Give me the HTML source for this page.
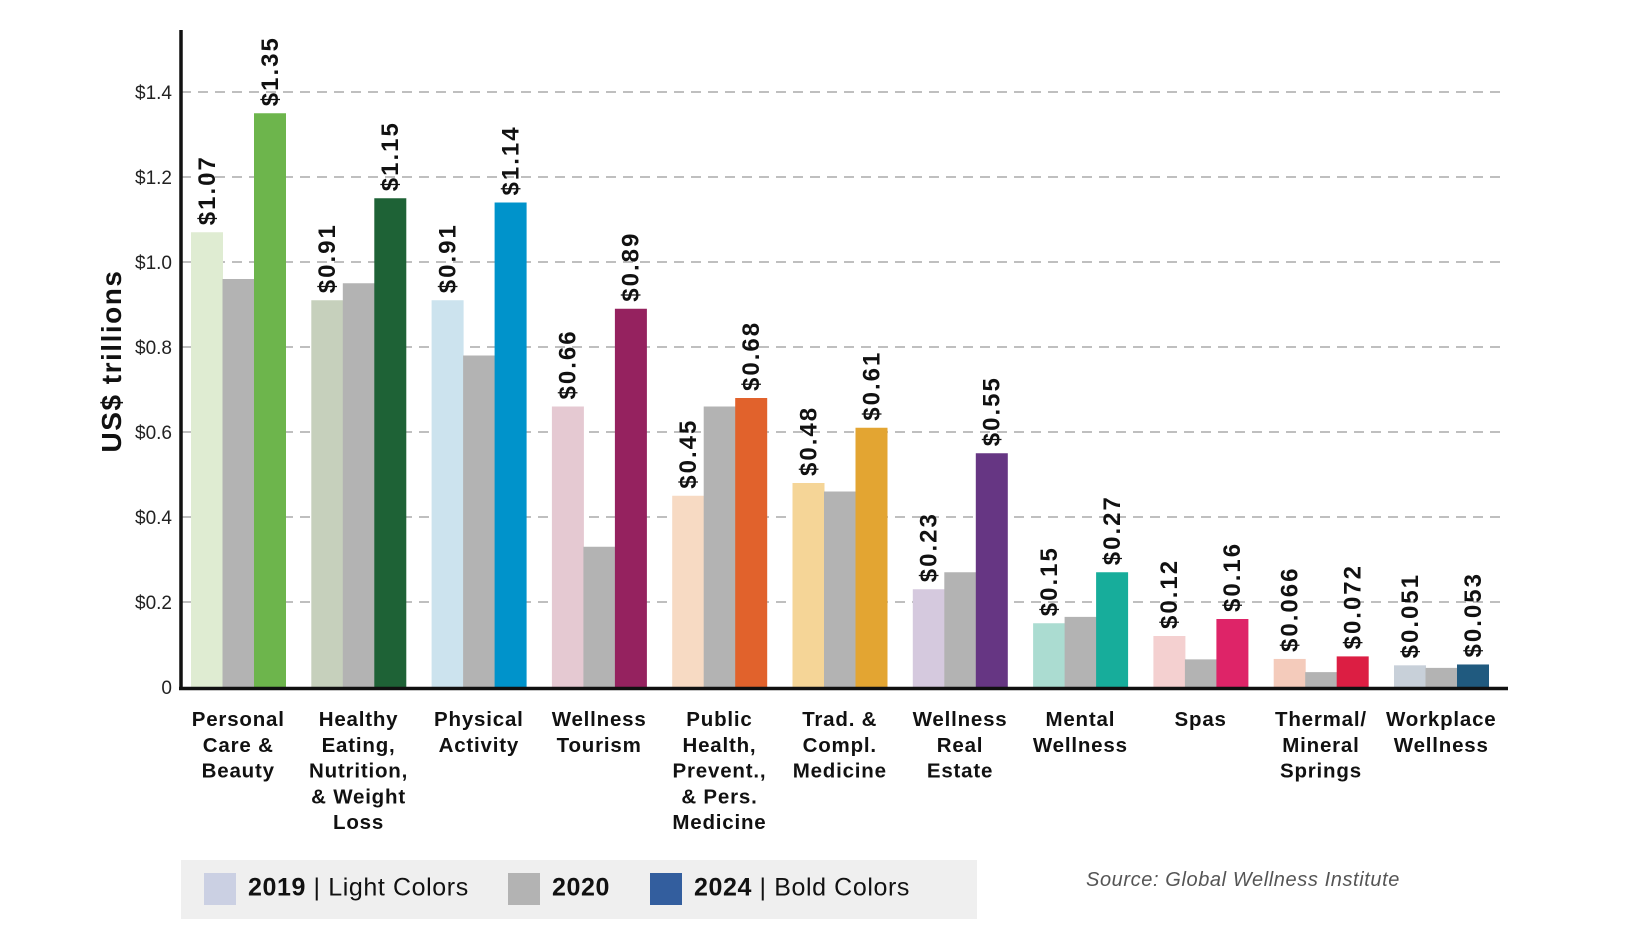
<!DOCTYPE html>
<html><head><meta charset="utf-8"><style>
html,body{margin:0;padding:0;background:#fff;width:1644px;height:948px;overflow:hidden}
svg{display:block;font-family:"Liberation Sans",sans-serif}
</style></head><body>
<svg id="chart" width="1644" height="948" viewBox="0 0 1644 948"></svg>
<script>
const categories=[["Personal","Care &","Beauty"],["Healthy","Eating,","Nutrition,","& Weight","Loss"],["Physical","Activity"],["Wellness","Tourism"],["Public","Health,","Prevent.,","& Pers.","Medicine"],["Trad. &","Compl.","Medicine"],["Wellness","Real","Estate"],["Mental","Wellness"],["Spas"],["Thermal/","Mineral","Springs"],["Workplace","Wellness"]];
const values2019=[1.07,0.91,0.91,0.66,0.45,0.48,0.23,0.15,0.12,0.066,0.051];
const values2020=[0.96,0.95,0.78,0.33,0.66,0.46,0.27,0.165,0.065,0.035,0.045];
const values2024=[1.35,1.15,1.14,0.89,0.68,0.61,0.55,0.27,0.16,0.072,0.053];
const labels2019=["$1.07","$0.91","$0.91","$0.66","$0.45","$0.48","$0.23","$0.15","$0.12","$0.066","$0.051"];
const labels2024=["$1.35","$1.15","$1.14","$0.89","$0.68","$0.61","$0.55","$0.27","$0.16","$0.072","$0.053"];
const yTicks=[0,0.2,0.4,0.6,0.8,1.0,1.2,1.4];
const yTickLabels=["0","$0.2","$0.4","$0.6","$0.8","$1.0","$1.2","$1.4"];
const lightColors=["#dfecd2","#c6d0bc","#cce3ee","#e5c9d2","#f7dac3","#f5d597","#d5c9de","#abdcd1","#f4d0d0","#f4cbbb","#c8d0d9"];
const boldColors=["#6db54c","#1e6236","#0093cb","#95225f","#e1622c","#e3a532","#663683","#17ad9b","#de2468","#dc1e43","#205a7f"];

const svg=document.getElementById('chart');
const NS='http://www.w3.org/2000/svg';
const Y0=687,SCALE=425,AXX=181,GX0=191,PITCH=120.3,BW=31.5;
function y(v){return Y0-v*SCALE;}
function gx(i){return GX0+i*PITCH;}
function mk(tag,attrs,parent){const e=document.createElementNS(NS,tag);for(const k in attrs)e.setAttribute(k,attrs[k]);(parent||svg).appendChild(e);return e;}

yTicks.forEach((t,i)=>{
  if(t>0){const l=mk('line',{x1:AXX,x2:1500,y1:y(t),y2:y(t),stroke:'#aaa','stroke-width':1.5,'stroke-dasharray':'10 7'});
  
  }
  const tx=mk('text',{x:172,y:y(t)+7,'text-anchor':'end','font-size':19,fill:'#222'});
  tx.textContent=yTickLabels[i];
  
  
});
const yt=mk('text',{transform:'translate(121,361) rotate(-90)','text-anchor':'middle','font-size':28,'font-weight':'bold',fill:'#111','letter-spacing':1.5});
yt.textContent='US$ trillions';



categories.forEach((c,i)=>{
  const x=gx(i);
  const sets=[[values2019[i],lightColors[i],'bar-2019'],[values2020[i],'#b3b3b3','bar-2020'],[values2024[i],boldColors[i],'bar-2024']];
  sets.forEach((s,j)=>{
    const r=mk('rect',{x:x+j*BW,y:y(s[0]),width:BW+0.5,height:Y0-y(s[0]),fill:s[1]});
    
    
  });
  [[values2019[i],labels2019[i],0],[values2024[i],labels2024[i],2]].forEach(p=>{
    const cx=x+p[2]*BW+BW/2+8,cy=y(p[0])-7;
    const t=mk('text',{transform:`translate(${cx},${cy}) rotate(-90)`,'font-size':24,'font-weight':'bold',fill:'#111','letter-spacing':2});
    t.textContent=p[1];
    
    
  });
  const lt=mk('text',{'text-anchor':'middle','font-size':20.5,'font-weight':'bold',fill:'#111','letter-spacing':0.8});
  
  
  c.forEach((line,k)=>{const ts=mk('tspan',{x:x+BW*1.5,y:726+k*25.8},lt);ts.textContent=line;});
});
const ax=mk('line',{x1:AXX,x2:AXX,y1:30,y2:Y0+2,stroke:'#111','stroke-width':3.5});


const bx=mk('line',{x1:AXX-2,x2:1508,y1:Y0+1.5,y2:Y0+1.5,stroke:'#111','stroke-width':3.5});


</script>
<div style="position:absolute;left:181px;top:860px;width:796px;height:59px;background:#efefef;font-family:'Liberation Sans',sans-serif;font-size:25px;letter-spacing:0.6px;color:#111">
 <div style="position:absolute;left:23px;top:13px;white-space:nowrap"><span style="display:inline-block;width:32px;height:32px;background:#cbd0e3;vertical-align:middle;margin-right:12px"></span><b>2019</b> | Light Colors</div>
 <div style="position:absolute;left:327px;top:13px;white-space:nowrap"><span style="display:inline-block;width:32px;height:32px;background:#b3b3b3;vertical-align:middle;margin-right:12px"></span><b>2020</b></div>
 <div style="position:absolute;left:469px;top:13px;white-space:nowrap"><span style="display:inline-block;width:32px;height:32px;background:#335e9e;vertical-align:middle;margin-right:12px"></span><b>2024</b> | Bold Colors</div>
</div>
<div style="position:absolute;left:1086px;top:869px;font-family:'Liberation Sans',sans-serif;font-style:italic;font-size:20px;letter-spacing:0.6px;color:#555">Source: Global Wellness Institute</div>
</body></html>
